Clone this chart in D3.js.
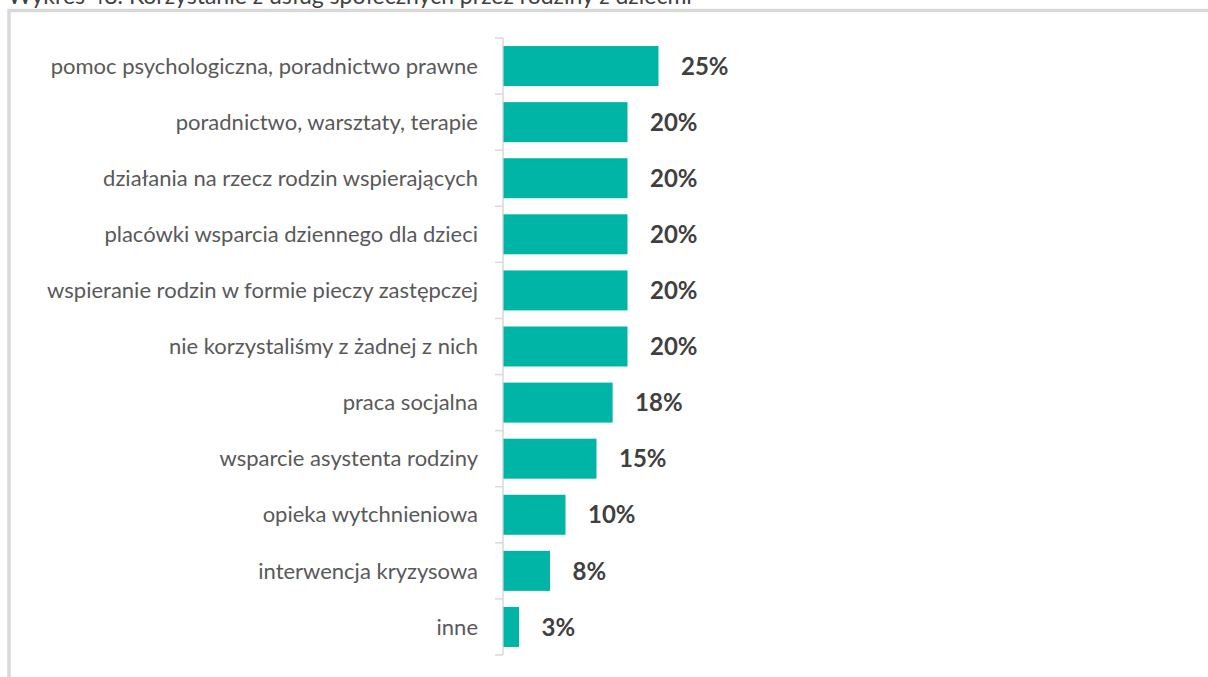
<!DOCTYPE html>
<html>
<head>
<meta charset="utf-8">
<script src="https://cdn.jsdelivr.net/npm/d3@7"></script>
<style>
  html, body { margin: 0; padding: 0; background: #fff; overflow: hidden; }
  svg { display: block; font-family: Lato, 'Open Sans', sans-serif; }
</style>
</head>
<body>
<div id="chart"></div>
<script>
const title = 'Wykres 48. Korzystanie z usług społecznych przez rodziny z dziećmi';

const categories = [
  'pomoc psychologiczna, poradnictwo prawne',
  'poradnictwo, warsztaty, terapie',
  'działania na rzecz rodzin wspierających',
  'placówki wsparcia dziennego dla dzieci',
  'wspieranie rodzin w formie pieczy zastępczej',
  'nie korzystaliśmy z żadnej z nich',
  'praca socjalna',
  'wsparcie asystenta rodziny',
  'opieka wytchnieniowa',
  'interwencja kryzysowa',
  'inne',
];

const values = [25, 20, 20, 20, 20, 20, 17.6, 15, 10, 7.5, 2.5];

const data = categories.map((c, i) => ({ name: c, value: values[i] }));

function visualize() {
  const width = 1208;
  const height = 677;
  const axisX = 503;

  const svg = d3.select('#chart').append('svg')
    .attr('width', width)
    .attr('height', height);

  // outer frame (cut off by the window at right and bottom)
  svg.append('rect')
    .attr('x', 9)
    .attr('y', 10.5)
    .attr('width', width + 20)
    .attr('height', height + 20)
    .attr('fill', 'none')
    .attr('stroke', '#d9d9d9')
    .attr('stroke-width', 3.5);

  // title sits partly above the top edge, as in the source
  svg.append('text')
    .attr('x', 8)
    .attr('y', 4)
    .attr('fill', '#404040')
    .style('font-size', '23px')
    .text(title);

  const x = d3.scaleLinear()
    .domain([0, 25])
    .range([axisX, 658]);

  const y = d3.scaleBand()
    .domain(categories)
    .range([38, 655])
    .paddingInner(0.287)
    .paddingOuter(0.1435);

  const gap = (y.step() - y.bandwidth()) / 2;
  const bounds = categories.map(c => y(c) - gap).concat([y.range()[1]]);

  const axis = svg.append('g').attr('class', 'axis');
  axis.append('line')
    .attr('x1', axisX).attr('x2', axisX)
    .attr('y1', y.range()[0]).attr('y2', y.range()[1])
    .attr('stroke', '#d9d9d9')
    .attr('stroke-width', 1.5);
  axis.selectAll('.tick')
    .data(bounds)
    .enter()
    .append('line')
      .attr('class', 'tick')
      .attr('x1', axisX - 8).attr('x2', axisX)
      .attr('y1', d => d).attr('y2', d => d)
      .attr('stroke', '#d9d9d9')
      .attr('stroke-width', 1.5);

  svg.selectAll('.bar')
    .data(data)
    .enter()
    .append('rect')
      .attr('class', 'bar')
      .attr('x', x(0) + 0.5)
      .attr('y', d => y(d.name))
      .attr('width', d => x(d.value) - x(0))
      .attr('height', y.bandwidth())
      .attr('fill', '#00b4a6');

  svg.selectAll('.cat')
    .data(data)
    .enter()
    .append('text')
      .attr('class', 'cat')
      .attr('x', 478)
      .attr('y', d => y(d.name) + y.bandwidth() / 2)
      .attr('dy', '0.35em')
      .attr('text-anchor', 'end')
      .attr('fill', '#595959')
      .style('font-size', '22px')
      .text(d => d.name);

  svg.selectAll('.val')
    .data(data)
    .enter()
    .append('text')
      .attr('class', 'val')
      .attr('x', d => x(d.value) + 23)
      .attr('y', d => y(d.name) + y.bandwidth() / 2)
      .attr('dy', '0.36em')
      .attr('fill', '#404040')
      .style('font-size', '24px')
      .style('font-weight', 'bold')
      .text(d => `${Math.round(d.value)}%`);
}

visualize();
</script>
</body>
</html>
